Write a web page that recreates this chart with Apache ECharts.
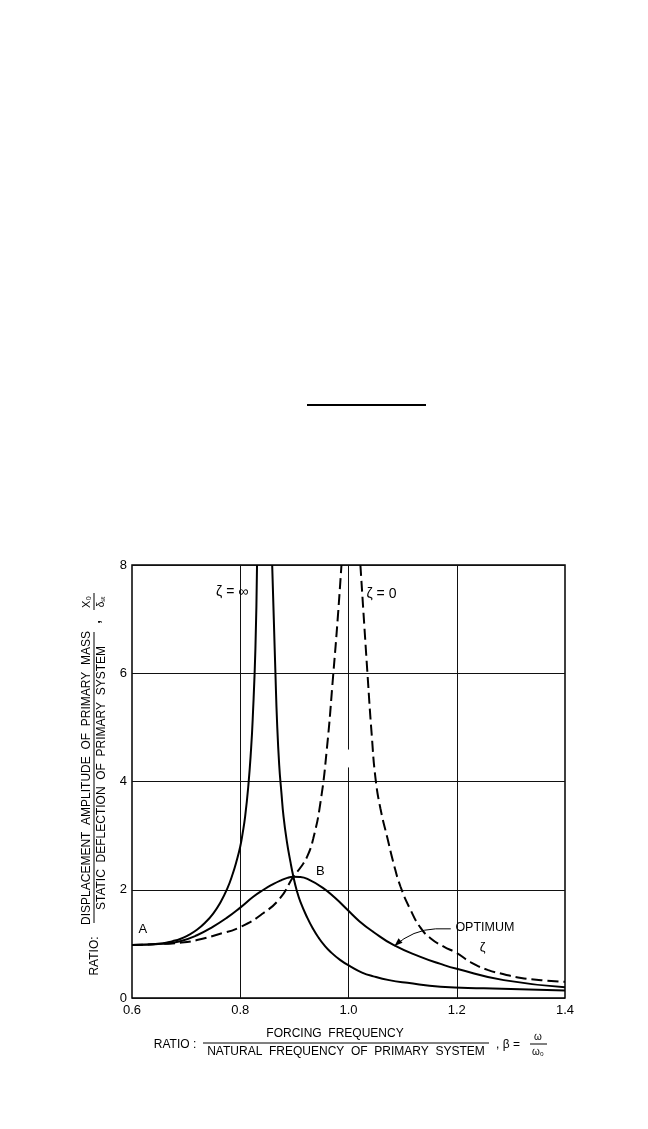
<!DOCTYPE html>
<html><head><meta charset="utf-8">
<script src="https://cdn.jsdelivr.net/npm/echarts@6/dist/echarts.min.js"></script>
<style>html,body{margin:0;padding:0;background:#fff}#c{width:648px;height:1129px}</style>
</head><body><div id="c"></div>
<script>
// ---- data ----
const xTickLabels = ['0.6', '0.8', '1.0', '1.2', '1.4'];
const yTickLabels = ['0', '2', '4', '6', '8'];

// zeta = infinity (solid), two branches
const infLeftX  = [0.600, 0.630, 0.657, 0.675, 0.689, 0.704, 0.720, 0.735, 0.750, 0.763, 0.776, 0.786, 0.794, 0.800, 0.804, 0.809, 0.815, 0.820, 0.823, 0.828, 0.831];
const infLeftY  = [0.98, 0.99, 1.01, 1.05, 1.09, 1.16, 1.26, 1.39, 1.56, 1.76, 2.02, 2.29, 2.56, 2.80, 3.02, 3.35, 3.93, 4.60, 5.15, 6.45, 8.00];
const infRightX = [0.859, 0.862, 0.865, 0.868, 0.872, 0.876, 0.880, 0.886, 0.893, 0.898, 0.904, 0.911, 0.924, 0.935, 0.945, 0.954, 0.967, 0.985, 1.004, 1.025, 1.046, 1.075, 1.109, 1.170, 1.250, 1.400];
const infRightY = [8.00, 7.00, 6.00, 5.10, 4.30, 3.80, 3.35, 2.90, 2.50, 2.25, 2.00, 1.78, 1.48, 1.27, 1.11, 0.99, 0.85, 0.70, 0.58, 0.47, 0.40, 0.33, 0.28, 0.21, 0.18, 0.14];

// zeta = 0 (dashed), two branches
const zeroLeftX  = [0.600, 0.657, 0.689, 0.720, 0.757, 0.800, 0.843, 0.874, 0.898, 0.912, 0.924, 0.935, 0.948, 0.960, 0.972, 0.980, 0.987];
const zeroLeftY  = [0.98, 1.00, 1.02, 1.07, 1.17, 1.31, 1.57, 1.85, 2.24, 2.42, 2.62, 2.95, 3.60, 4.60, 6.00, 7.00, 8.00];
const zeroRightX = [1.022, 1.035, 1.043, 1.050, 1.059, 1.072, 1.083, 1.096, 1.115, 1.133, 1.152, 1.176, 1.200, 1.226, 1.257, 1.287, 1.319, 1.356, 1.400];
const zeroRightY = [8.00, 6.00, 4.85, 4.05, 3.50, 2.95, 2.50, 2.06, 1.62, 1.30, 1.10, 0.95, 0.83, 0.66, 0.52, 0.44, 0.37, 0.33, 0.30];

// optimum zeta (solid)
const optX = [0.600, 0.657, 0.689, 0.720, 0.750, 0.775, 0.800, 0.824, 0.843, 0.860, 0.874, 0.887, 0.898, 0.910, 0.924, 0.952, 0.975, 0.998, 1.020, 1.046, 1.083, 1.133, 1.170, 1.200, 1.287, 1.400];
const optY = [0.98, 1.00, 1.05, 1.16, 1.32, 1.48, 1.67, 1.87, 2.00, 2.10, 2.17, 2.22, 2.24, 2.235, 2.20, 2.04, 1.85, 1.63, 1.42, 1.22, 0.98, 0.76, 0.63, 0.54, 0.33, 0.20];

const zip = (xs, ys) => xs.map((x, i) => [x, ys[i]]);
const FONT = 'Liberation Sans, Arial, sans-serif';

const chart = echarts.init(document.getElementById('c'), null, {renderer: 'canvas'});

const lineBase = (name, xs, ys, dashed) => ({
  name, type: 'line', data: zip(xs, ys), showSymbol: false, symbol: 'none',
  smooth: 0.5, clip: true, z: 5,
  lineStyle: {color: '#000', width: 2, type: dashed ? [11, 5] : 'solid'}
});

const option = {
  backgroundColor: '#fff',
  animation: false,
  grid: {left: 132, top: 565, width: 433, height: 433, show: true, borderColor: '#000', borderWidth: 1.5, backgroundColor: 'transparent'},
  xAxis: {
    type: 'value', min: 0.6, max: 1.4, interval: 0.2,
    axisLine: {show: false}, axisTick: {show: false},
    splitLine: {show: false},
    axisLabel: {color: '#000', fontFamily: FONT, fontSize: 13, margin: 6,
      formatter: v => xTickLabels[Math.round((v - 0.6) / 0.2)] || ''}
  },
  yAxis: {
    type: 'value', min: 0, max: 8, interval: 2,
    axisLine: {show: false}, axisTick: {show: false},
    splitLine: {show: true, lineStyle: {color: '#111', width: 1}},
    axisLabel: {color: '#000', fontFamily: FONT, fontSize: 13, margin: 5,
      formatter: v => yTickLabels[Math.round(v / 2)] || ''}
  },
  series: [
    Object.assign(lineBase('zeta_inf_left', infLeftX, infLeftY, false), {
      markLine: {
        silent: true, symbol: 'none', label: {show: false},
        lineStyle: {color: '#111', width: 1, type: 'solid'},
        data: [
          {xAxis: 0.8},
          {xAxis: 1.2},
          [{coord: [1.0, 0]}, {coord: [1.0, 4.26]}],
          [{coord: [1.0, 4.59]}, {coord: [1.0, 8]}]
        ]
      }
    }),
    lineBase('zeta_inf_right', infRightX, infRightY, false),
    lineBase('zeta_0_left', zeroLeftX, zeroLeftY, true),
    lineBase('zeta_0_right', zeroRightX, zeroRightY, true),
    lineBase('optimum', optX, optY, false)
  ]
};
chart.setOption(option);

// ---- annotations (positioned in data space) ----
const P = (x, y) => chart.convertToPixel({gridIndex: 0}, [x, y]);
const txt = (x, y, s, size) => {
  const p = P(x, y);
  return {type: 'text', x: p[0], y: p[1], z: 10, style: {text: s, fill: '#000', font: `${size || 13}px ${FONT}`, textAlign: 'center', textVerticalAlign: 'middle'}};
};

const aStart = P(1.161, 1.278), aDashEnd = P(1.189, 1.278), aCtrl = P(1.119, 1.262), aEnd = P(1.085, 0.963);
const ang = Math.atan2(aEnd[1] - aCtrl[1], aEnd[0] - aCtrl[0]);
const ah = 8, aw = 3;
const head = [
  aEnd,
  [aEnd[0] - ah * Math.cos(ang) + aw * Math.sin(ang), aEnd[1] - ah * Math.sin(ang) - aw * Math.cos(ang)],
  [aEnd[0] - ah * Math.cos(ang) - aw * Math.sin(ang), aEnd[1] - ah * Math.sin(ang) + aw * Math.cos(ang)]
];

const T = (x, y, s, size, extra) => ({type: 'text', x, y, style: Object.assign({text: s, fill: '#000', font: `${size}px ${FONT}`, textAlign: 'center', textVerticalAlign: 'middle'}, extra || {})});

const graphics = [
  txt(0.785, 7.5, 'ζ = ∞', 14),
  txt(1.061, 7.46, 'ζ = 0', 14),
  txt(0.620, 1.26, 'A', 13),
  txt(0.948, 2.33, 'B', 13),
  txt(1.252, 1.30, 'OPTIMUM', 12.5),
  txt(1.248, 0.94, 'ζ', 13),
  {type: 'line', z: 10, shape: {x1: aStart[0], y1: aStart[1], x2: aDashEnd[0], y2: aDashEnd[1]}, style: {stroke: '#000', lineWidth: 1}},
  {type: 'bezierCurve', z: 10, shape: {x1: aStart[0], y1: aStart[1], cpx1: aCtrl[0], cpy1: aCtrl[1], x2: aEnd[0], y2: aEnd[1]}, style: {stroke: '#000', lineWidth: 1, fill: null}},
  {type: 'polygon', z: 10, shape: {points: head}, style: {fill: '#000'}},
  // stray rule above the chart
  {type: 'line', shape: {x1: 307, y1: 405, x2: 426, y2: 405}, style: {stroke: '#000', lineWidth: 2}},
  // y-axis title (rotated fraction)
  {
    type: 'group', x: 94, y: 760, rotation: Math.PI / 2,
    children: [
      T(-196, 1, 'RATIO:', 12),
      {type: 'line', shape: {x1: -163, y1: 0, x2: 128, y2: 0}, style: {stroke: '#000', lineWidth: 1}},
      T(-18, -7, 'DISPLACEMENT  AMPLITUDE  OF  PRIMARY  MASS', 12),
      T(-18, 8, 'STATIC  DEFLECTION  OF  PRIMARY  SYSTEM', 12),
      T(138, 2, ',', 13, {font: `bold 13px ${FONT}`}),
      {type: 'line', shape: {x1: 150, y1: 0, x2: 167, y2: 0}, style: {stroke: '#000', lineWidth: 1}},
      T(158, -7, 'X₀', 11),
      T(158, 7, 'δₛₜ', 10)
    ]
  },
  // x-axis title (fraction)
  T(175, 1045, 'RATIO :', 12),
  {type: 'line', shape: {x1: 203, y1: 1043, x2: 489, y2: 1043}, style: {stroke: '#000', lineWidth: 1}},
  T(335, 1034, 'FORCING  FREQUENCY', 12),
  T(346, 1052, 'NATURAL  FREQUENCY  OF  PRIMARY  SYSTEM', 12),
  T(508, 1045, ', β =', 12),
  {type: 'line', shape: {x1: 530, y1: 1044, x2: 547, y2: 1044}, style: {stroke: '#000', lineWidth: 1}},
  T(538, 1037, 'ω', 10),
  T(538, 1052, 'ω₀', 10)
];
chart.setOption({graphic: graphics});
</script>
</body></html>
